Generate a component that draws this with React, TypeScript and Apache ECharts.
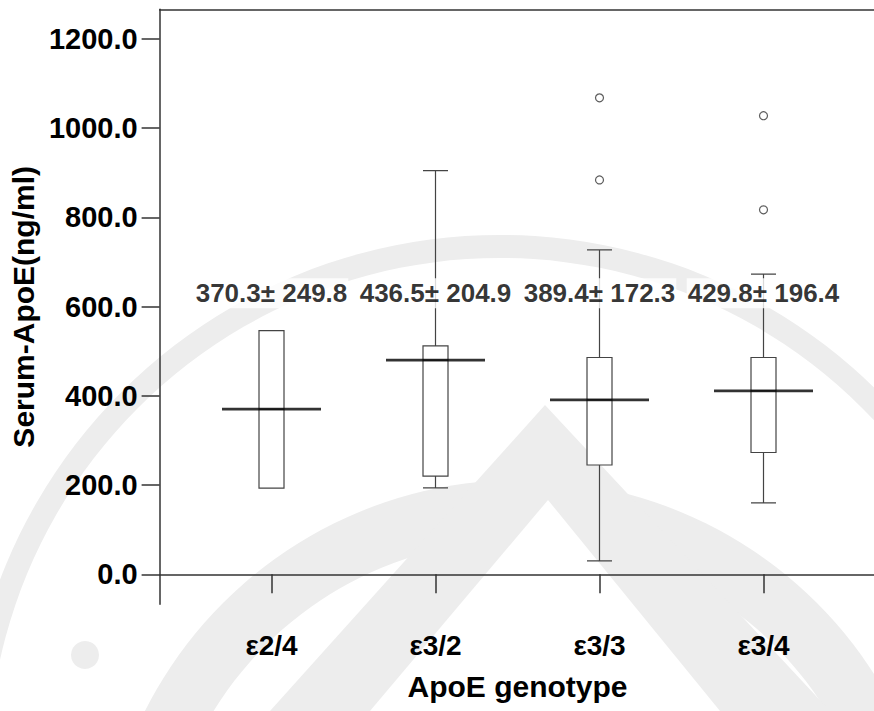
import React, { useEffect, useRef } from "react";
import * as echarts from "echarts";

const categories = ["ε2/4", "ε3/2", "ε3/3", "ε3/4"];
// [min, Q1, median, Q3, max]
const boxValues = [
  [193, 193, 370, 546, 546],
  [193.5, 220, 480, 512, 905],
  [30, 245, 391, 486, 727],
  [160, 273, 411, 486, 673],
];
const outlierCats = [2, 2, 3, 3];
const outlierValues = [1068, 884, 1028, 817];
const meanLabels = ["370.3± 249.8", "436.5± 204.9", "389.4± 172.3", "429.8± 196.4"];
const yTicks = [0, 200, 400, 600, 800, 1000, 1200];

const Y_MIN = -67.3;
const Y_MAX = 1266.5;
const LABEL_Y = 630;
const FONT = "'Liberation Sans', Arial, sans-serif";
const WM = "#ededed";

export default function App() {
  const ref = useRef<HTMLDivElement>(null);
  useEffect(() => {
    document.body.style.margin = "0";
    if (!ref.current) return;
    const chart = echarts.init(ref.current, null, { renderer: "svg" });
    const option: any = {
      animation: false,
      backgroundColor: "#fff",
      textStyle: { fontFamily: FONT },
      graphic: [
        { type: "ring", silent: true, z: -10, shape: { cx: 500, cy: 770, r: 535, r0: 512 }, style: { fill: WM } },
        { type: "circle", silent: true, z: -10, shape: { cx: 85, cy: 655, r: 14 }, style: { fill: WM } },
        { type: "ring", silent: true, z: -10, shape: { cx: 520, cy: 900, r: 420, r0: 360 }, style: { fill: WM } },
        { type: "polygon", silent: true, z: -10, shape: { points: [[545, 405], [830, 711], [270, 711]] }, style: { fill: WM } },
        { type: "polygon", silent: true, z: -9, shape: { points: [[548, 500], [720, 711], [370, 711]] }, style: { fill: "#fff" } },
      ],
      grid: [
        { left: 189.5, top: 9.3, width: 656, height: 595 },
        { left: 152.5, top: 9.3, width: 729, height: 595 },
      ],
      xAxis: [
        {
          type: "category",
          gridIndex: 0,
          data: categories,
          boundaryGap: true,
          axisLine: { show: false },
          axisTick: { show: true, alignWithLabel: true, length: 19, lineStyle: { color: "#333", width: 1.5 } },
          axisLabel: { margin: 27, fontSize: 28, fontWeight: "bold", color: "#000", fontFamily: FONT },
          splitLine: { show: false },
          name: "ApoE genotype",
          nameLocation: "middle",
          nameGap: 67,
          nameTextStyle: { fontSize: 30, fontWeight: "bold", color: "#000", fontFamily: FONT },
        },
        {
          type: "value",
          gridIndex: 1,
          min: 0,
          max: 1,
          position: "bottom",
          axisLine: { show: true, lineStyle: { color: "#333", width: 1.5 } },
          axisTick: { show: false },
          axisLabel: { show: false },
          splitLine: { show: false },
        },
        {
          type: "value",
          gridIndex: 1,
          min: 0,
          max: 1,
          position: "top",
          axisLine: { show: true, lineStyle: { color: "#333", width: 1.5 } },
          axisTick: { show: false },
          axisLabel: { show: false },
          splitLine: { show: false },
        },
      ],
      yAxis: [
        { type: "value", gridIndex: 0, min: Y_MIN, max: Y_MAX, show: false, splitLine: { show: false } },
        {
          type: "value",
          gridIndex: 1,
          min: Y_MIN,
          max: Y_MAX,
          axisLine: { show: true, lineStyle: { color: "#333", width: 1.5 } },
          axisTick: { show: true, length: 18, customValues: yTicks, lineStyle: { color: "#333", width: 1.5 } },
          axisLabel: {
            customValues: yTicks,
            margin: 22,
            fontSize: 29,
            fontWeight: "bold",
            color: "#000",
            fontFamily: FONT,
            formatter: (v: number) => v.toFixed(1),
          },
          splitLine: { show: false },
          name: "Serum-ApoE(ng/ml)",
          nameLocation: "middle",
          nameGap: 108,
          nameRotate: 90,
          nameTextStyle: { fontSize: 30, fontWeight: "bold", color: "#000", fontFamily: FONT },
        },
      ],
      series: [
        {
          type: "boxplot",
          xAxisIndex: 0,
          yAxisIndex: 0,
          data: boxValues,
          boxWidth: [25, 25],
          itemStyle: { color: "#fff", borderColor: "#444", borderWidth: 1.2 },
          z: 3,
        },
        {
          type: "scatter",
          xAxisIndex: 0,
          yAxisIndex: 0,
          data: boxValues.map((b, i) => [i, b[2]]),
          symbol: "rect",
          symbolSize: [99, 2.8],
          itemStyle: { color: "#000" },
          z: 4,
        },
        {
          type: "scatter",
          xAxisIndex: 0,
          yAxisIndex: 0,
          data: outlierValues.map((v, i) => [outlierCats[i], v]),
          symbol: "circle",
          symbolSize: 8,
          itemStyle: { color: "#fff", borderColor: "#333", borderWidth: 1.2 },
          z: 4,
        },
        {
          type: "scatter",
          xAxisIndex: 0,
          yAxisIndex: 0,
          data: meanLabels.map((_, i) => [i, LABEL_Y]),
          symbolSize: 0,
          z: 6,
          label: {
            show: true,
            position: "inside",
            formatter: (p: any) => meanLabels[p.dataIndex],
            fontSize: 26,
            fontWeight: "bold",
            color: "#000",
            fontFamily: FONT,
            backgroundColor: "#fff",
            padding: [2, 1],
          },
        },
      ],
    };
    chart.setOption(option);
    return () => chart.dispose();
  }, []);
  return <div ref={ref} style={{ width: 874, height: 711 }} />;
}
